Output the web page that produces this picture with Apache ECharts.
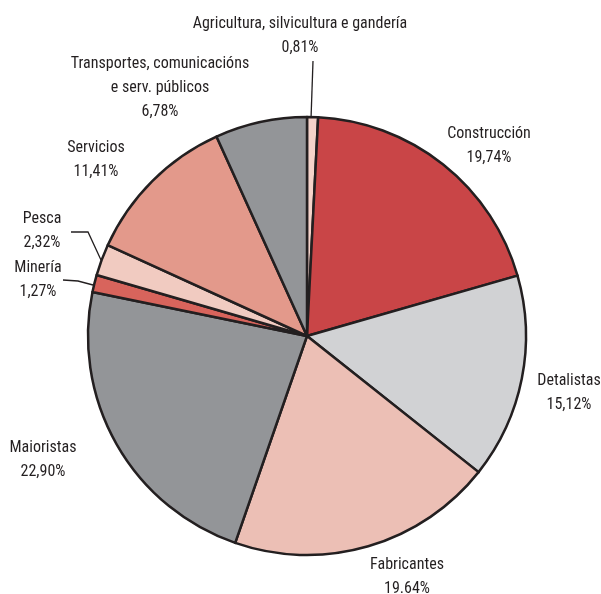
<!DOCTYPE html>
<html>
<head>
<meta charset="utf-8">
<script src="https://cdn.jsdelivr.net/npm/echarts@6/dist/echarts.min.js"></script>
<style>html,body{margin:0;padding:0;background:#fff}#c{width:601px;height:594px}</style>
</head>
<body>
<div id="c"></div>
<script>
// Data
const categories = [
  "Agricultura, silvicultura e gandería",
  "Construcción",
  "Detalistas",
  "Fabricantes",
  "Maioristas",
  "Minería",
  "Pesca",
  "Servicios",
  "Transportes, comunicacións\ne serv. públicos"
];
const values = [0.81, 19.74, 15.12, 19.64, 22.90, 1.27, 2.32, 11.41, 6.78];
const valueLabels = ["0,81%", "19,74%", "15,12%", "19.64%", "22,90%", "1,27%", "2,32%", "11,41%", "6,78%"];
const colors = ["#f5d3ca", "#c94547", "#d1d2d4", "#ecbfb5", "#939598", "#d8645c", "#f1cbc1", "#e3998b", "#939598"];

// Label placement (centre of each text block) and leader lines
const labelPos = [
  [300, 36], [489, 146], [569, 393], [407, 577], [43, 460], [38, 280], [42, 231], [96, 160], [160, 88]
];
const leaderLines = {
  0: [[313, 61], [311, 119]],
  5: [[63, 280], [78, 281], [93, 285]],
  6: [[71, 232], [88, 232], [101, 260]]
};

const chart = echarts.init(document.getElementById('c'), null, {renderer: 'canvas'});
const data = categories.map((name, i) => ({
  name: name,
  value: values[i],
  itemStyle: {color: colors[i]},
  labelLine: {show: !!leaderLines[i], lineStyle: {color: '#231f20', width: 1.3}}
}));
chart.setOption({
  animation: false,
  series: [{
    type: 'pie',
    center: [307, 336],
    radius: 219,
    startAngle: 90,
    clockwise: true,
    itemStyle: {borderColor: '#231f20', borderWidth: 2.5},
    emphasis: {disabled: true},
    label: {
      show: true,
      position: 'outside',
      formatter: p => p.name + '\n' + valueLabels[p.dataIndex],
      fontFamily: '"Liberation Sans Narrow", "Roboto Condensed", "DejaVu Sans Condensed", sans-serif',
      fontSize: 16,
      lineHeight: 24,
      color: '#231f20',
      align: 'center',
      overflow: 'none',
      width: 400
    },
    labelLine: {show: true, length: 10, length2: 10},
    labelLayout: function (params) {
      const i = params.dataIndex;
      const out = {x: labelPos[i][0], y: labelPos[i][1], align: 'center', verticalAlign: 'middle'};
      if (leaderLines[i]) out.labelLinePoints = leaderLines[i];
      return out;
    },
    data: data
  }]
});
</script>
</body>
</html>
